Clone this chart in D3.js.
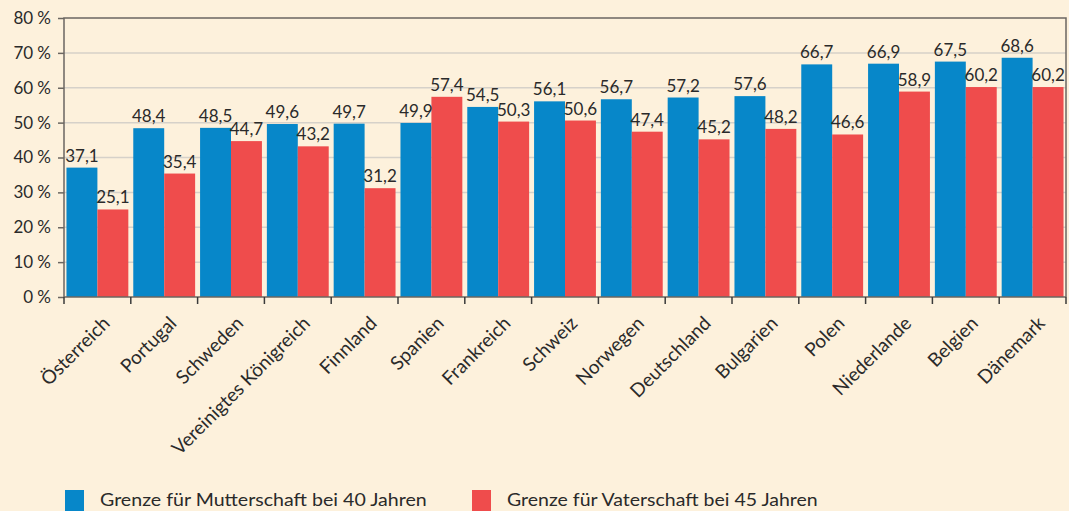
<!DOCTYPE html>
<html>
<head>
<meta charset="utf-8">
<script src="https://cdn.jsdelivr.net/npm/d3@7"></script>
<style>
  body { margin: 0; background: #fdf1dc; }
  svg { display: block; font-family: Lato, "Open Sans", sans-serif; }
</style>
</head>
<body>
<div id="chart"></div>
<script>
var countries = ['Österreich', 'Portugal', 'Schweden', 'Vereinigtes Königreich', 'Finnland', 'Spanien',
    'Frankreich', 'Schweiz', 'Norwegen', 'Deutschland', 'Bulgarien', 'Polen', 'Niederlande', 'Belgien', 'Dänemark'];
var mothers = [37.1, 48.4, 48.5, 49.6, 49.7, 49.9, 54.5, 56.1, 56.7, 57.2, 57.6, 66.7, 66.9, 67.5, 68.6];
var fathers = [25.1, 35.4, 44.7, 43.2, 31.2, 57.4, 50.3, 50.6, 47.4, 45.2, 48.2, 46.6, 58.9, 60.2, 60.2];
var yTicks = [0, 10, 20, 30, 40, 50, 60, 70, 80];
var seriesNames = ['Grenze für Mutterschaft bei 40 Jahren', 'Grenze für Vaterschaft bei 45 Jahren'];
var colors = ['#0787c9', '#ef4c4c'];

var width = 1069, height = 511;
var mLeft = 64, mRight = 1066, mTop = 18, mBottom = 297;

var svg = d3.select('#chart').append('svg')
    .attr('width', width)
    .attr('height', height);

svg.append('rect')
    .attr('width', width)
    .attr('height', height)
    .attr('fill', '#fdf1dc');

var x = d3.scaleBand()
    .domain(countries)
    .range([mLeft, mRight]);

var inner = d3.scaleBand()
    .domain([0, 1])
    .range([0, x.bandwidth()])
    .paddingOuter(0.08);

var y = d3.scaleLinear()
    .domain([0, 80])
    .range([mBottom, mTop]);

// gridlines
svg.append('g').selectAll('line')
    .data(yTicks.slice(1, -1))
    .enter()
    .append('line')
    .attr('x1', mLeft)
    .attr('x2', mRight)
    .attr('y1', function (d) { return y(d) })
    .attr('y2', function (d) { return y(d) })
    .attr('stroke', '#d6d1c9')
    .attr('stroke-width', 1.5);

// bars
var data = countries.map(function (c, i) {
    return { country: c, values: [mothers[i], fathers[i]] };
});

var groups = svg.append('g').selectAll('g')
    .data(data)
    .enter()
    .append('g')
    .attr('transform', function (d) { return 'translate(' + x(d.country) + ',0)' });

groups.selectAll('rect')
    .data(function (d) { return d.values })
    .enter()
    .append('rect')
    .attr('x', function (d, i) { return inner(i) })
    .attr('width', inner.bandwidth())
    .attr('y', function (d) { return y(d) })
    .attr('height', function (d) { return mBottom - y(d) })
    .attr('fill', function (d, i) { return colors[i] });

groups.selectAll('text')
    .data(function (d) { return d.values })
    .enter()
    .append('text')
    .attr('x', function (d, i) { return inner(i) + inner.bandwidth() / 2 })
    .attr('y', function (d) { return y(d) - 6 })
    .attr('text-anchor', 'middle')
    .attr('font-size', 17)
    .attr('fill', '#2a2a2a')
    .text(function (d) { return d.toFixed(1).replace('.', ',') });

// frame
svg.append('path')
    .attr('d', 'M' + mLeft + ',' + mBottom + 'V' + mTop + 'H' + mRight + 'V' + mBottom)
    .attr('fill', 'none')
    .attr('stroke', '#6b6661')
    .attr('stroke-width', 1.5);

// y axis
var yAxis = svg.append('g')
    .attr('transform', 'translate(' + mLeft + ',0)')
    .call(d3.axisLeft(y).tickValues(yTicks).tickSize(6).tickFormat(function (d) { return d + '\u202f%' }));
yAxis.select('.domain').remove();
yAxis.selectAll('line').attr('stroke', '#6b6661').attr('stroke-width', 1.5);
yAxis.selectAll('text')
    .attr('font-size', 17)
    .attr('font-family', 'Lato, sans-serif')
    .attr('fill', '#2a2a2a')
    .attr('x', -13);

// x axis
var xAxis = svg.append('g')
    .attr('transform', 'translate(0,' + mBottom + ')');
xAxis.append('line')
    .attr('x1', mLeft).attr('x2', mRight)
    .attr('stroke', '#6b6661').attr('stroke-width', 1.5);
xAxis.selectAll('line.tick')
    .data(countries.concat(['end']))
    .enter()
    .append('line')
    .attr('class', 'tick')
    .attr('x1', function (d, i) { return mLeft + i * x.step() })
    .attr('x2', function (d, i) { return mLeft + i * x.step() })
    .attr('y1', 0)
    .attr('y2', 7)
    .attr('stroke', '#3a3a3a')
    .attr('stroke-width', 1.5);
xAxis.selectAll('text')
    .data(countries)
    .enter()
    .append('text')
    .attr('transform', function (d) {
        return 'translate(' + (x(d) + x.bandwidth() / 2 + 4) + ',18) rotate(-45)';
    })
    .attr('text-anchor', 'end')
    .attr('dy', '0.71em')
    .attr('font-size', 19)
    .attr('fill', '#2a2a2a')
    .text(function (d) { return d });

// legend
var legendX = [65, 472];
var legendLen = [327, 311];
var legend = svg.append('g').selectAll('g')
    .data(seriesNames)
    .enter()
    .append('g')
    .attr('transform', function (d, i) { return 'translate(' + legendX[i] + ',490)' });
legend.append('rect')
    .attr('width', 19)
    .attr('height', 21)
    .attr('fill', function (d, i) { return colors[i] });
legend.append('text')
    .attr('y', 16)
    .attr('font-size', 18)
    .attr('fill', '#2a2a2a')
    .text(function (d) { return d })
    .attr('transform', function (d, i) {
        var w = this.getComputedTextLength();
        return 'translate(35,0) scale(' + (legendLen[i] / w) + ',1)';
    });
</script>
</body>
</html>
